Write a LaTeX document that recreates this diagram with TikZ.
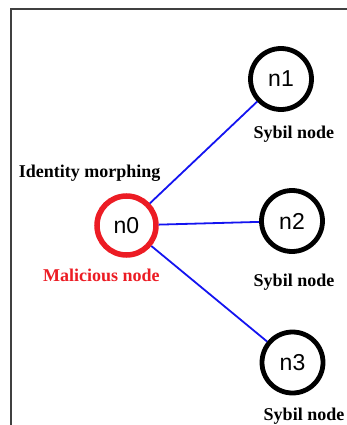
\documentclass[tikz,border=0pt]{standalone}
\usepackage{fontspec}
\setmainfont{Liberation Serif}
\newfontfamily\nodefont{Liberation Sans}
\definecolor{malred}{RGB}{236,28,36}
\definecolor{linkblue}{RGB}{20,20,240}
\definecolor{framegray}{RGB}{64,64,64}
\begin{document}
\begin{tikzpicture}[x=1pt,y=-1pt,
  peer/.style={circle,draw=black,line width=4.8pt,minimum size=61pt,inner sep=0pt,
    font=\nodefont\fontsize{23}{25}\selectfont},
  malicious/.style={peer,draw=malred,line width=5.5pt,minimum size=59pt},
  link/.style={draw=linkblue,line width=1.8pt},
  caption/.style={anchor=base,inner sep=0pt,font=\bfseries\fontsize{18}{20}\selectfont},
  frameline/.style={draw=framegray,line width=2pt}]
  \useasboundingbox (0,0) rectangle (347,425);
  % page frame
  \coordinate (ftop) at (347,9);
  \coordinate (fcorner) at (11,9);
  \coordinate (fbottom) at (11,426);
  \draw[frameline] (ftop) -- (fcorner) -- (fbottom);
  % nodes
  \node[malicious] (n0) at (126.5,225.5) {n0};
  \node[peer] (n1) at (281,79) {n1};
  \node[peer] (n2) at (292,221) {n2};
  \node[peer] (n3) at (292.5,362.5) {n3};
  % links from the malicious node to its Sybil identities
  \draw[link] (n0) -- (n1);
  \draw[link] (n0) -- (n2);
  \draw[link] (n0) -- (n3);
  % captions
  \node[caption] (lid) at (89.7,177) {Identity morphing};
  \node[caption,text=malred] (lmal) at (101.3,281.7) {Malicious node};
  \node[caption] (ls1) at (293.8,138.3) {Sybil node};
  \node[caption] (ls2) at (294,286.7) {Sybil node};
  \node[caption] (ls3) at (304,420.5) {Sybil node};
\end{tikzpicture}
\end{document}
